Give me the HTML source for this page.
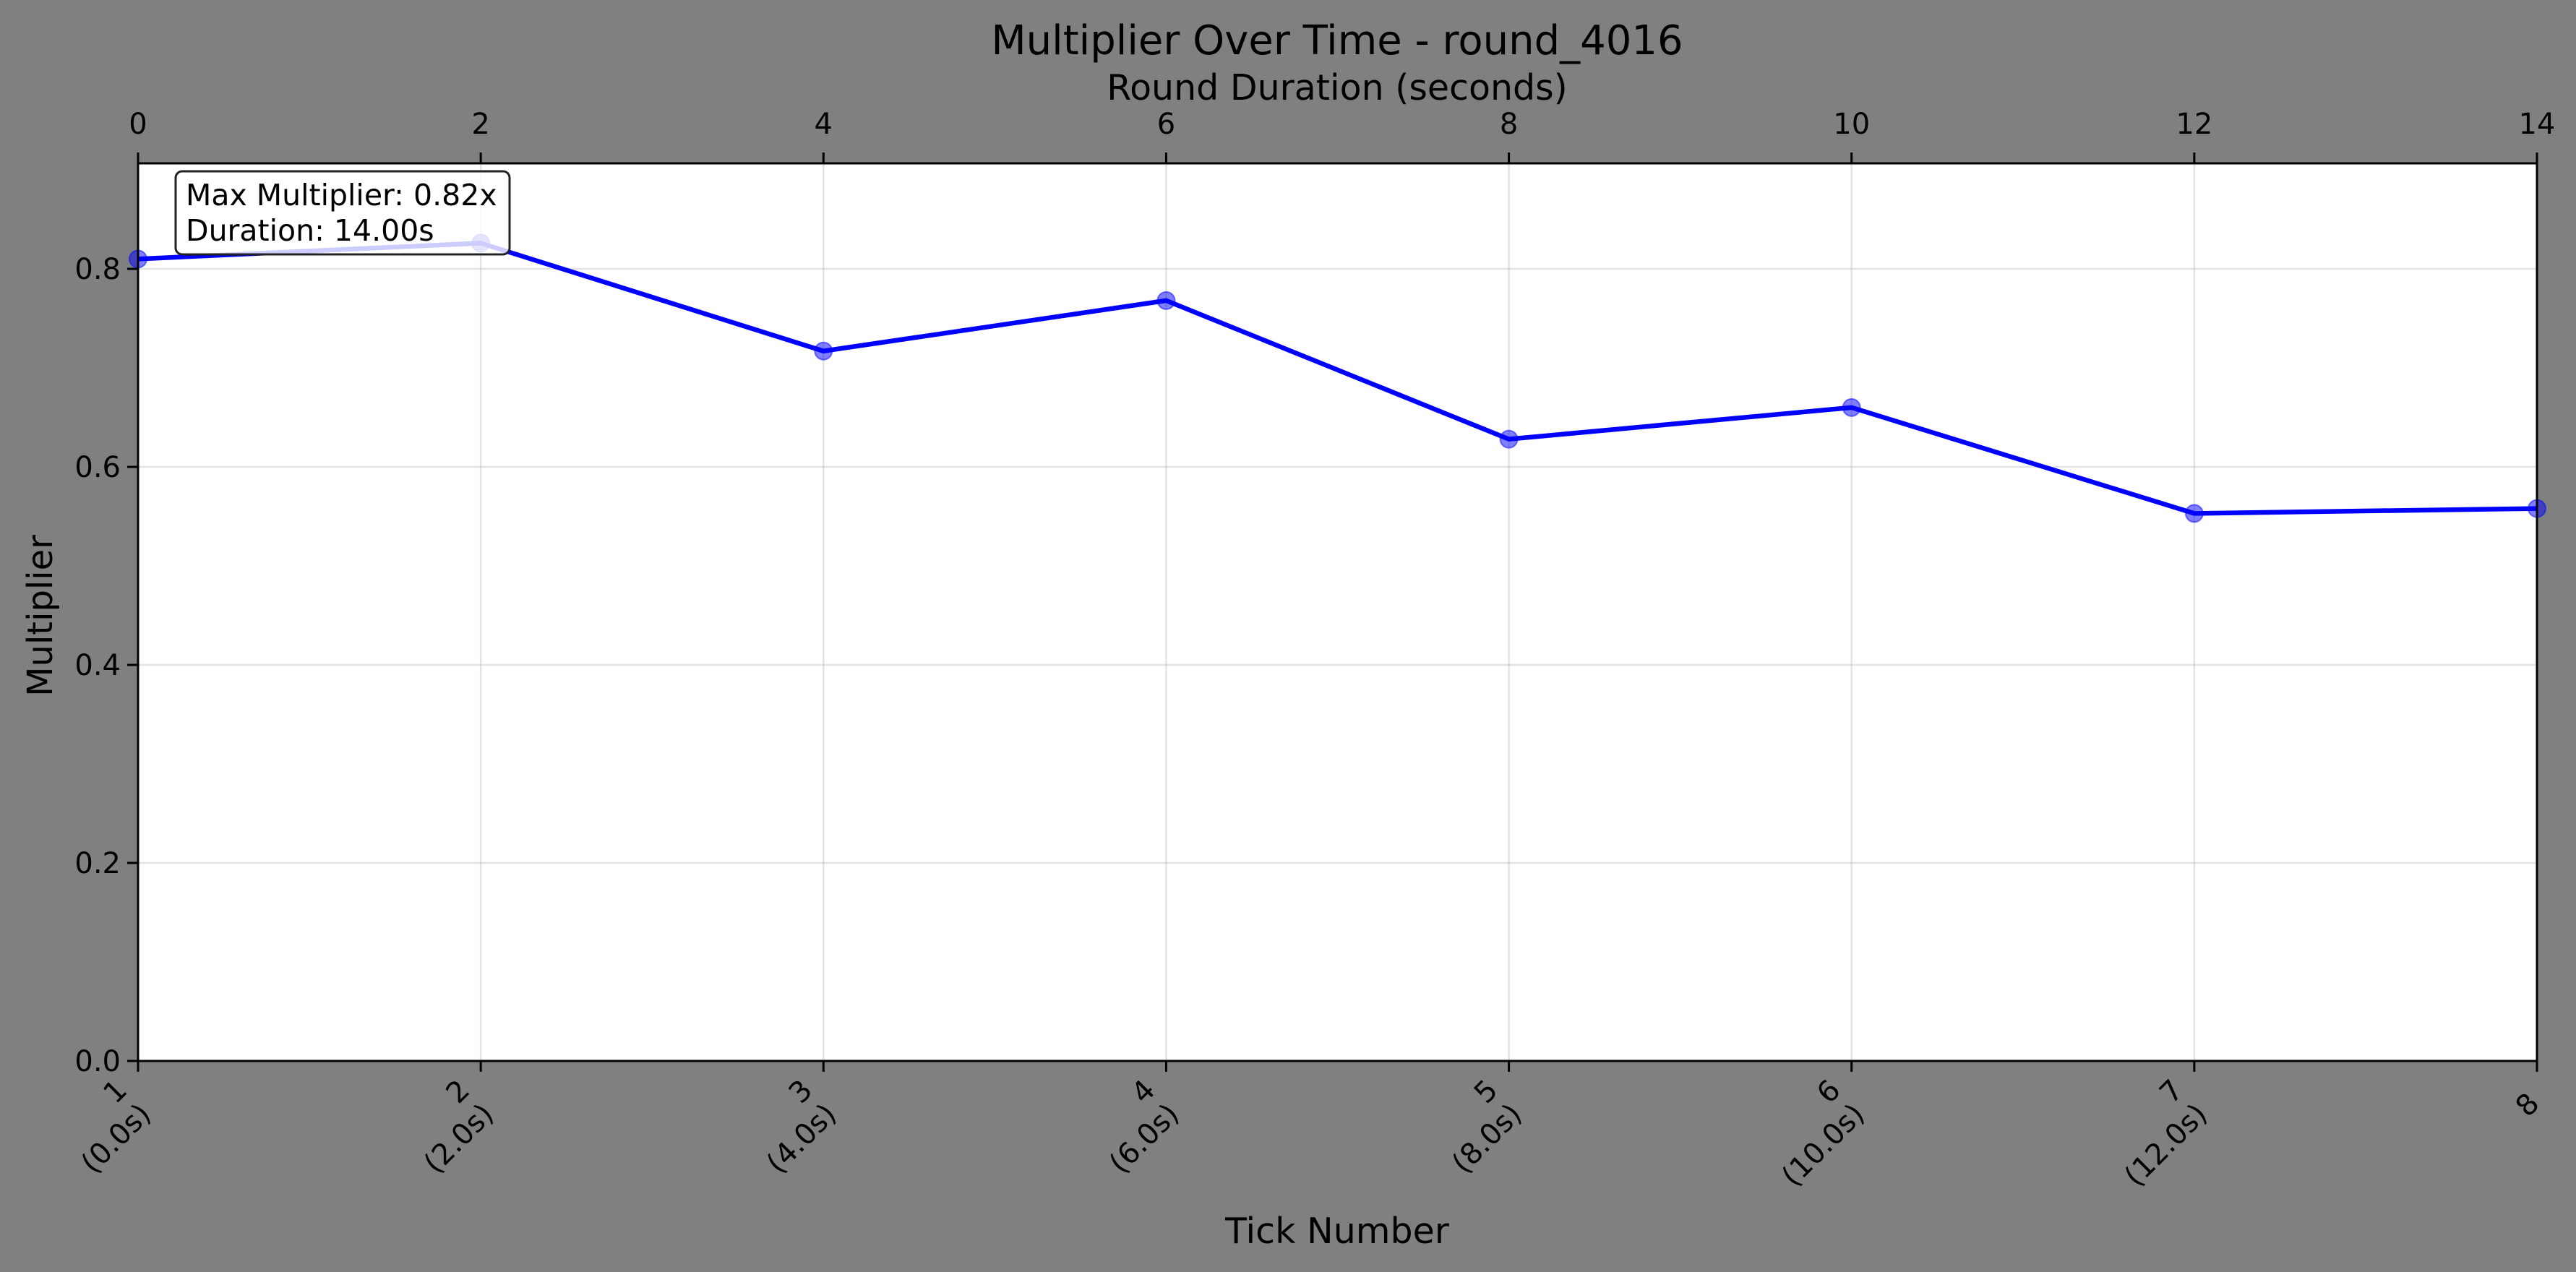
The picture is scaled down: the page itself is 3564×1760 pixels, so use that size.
<!DOCTYPE html>
<html><head><meta charset="utf-8"><style>
html,body{margin:0;padding:0;background:#808080;}
svg{display:block;font-family:"DejaVu Sans","Liberation Sans",sans-serif;}
</style></head><body>
<svg id="chart" width="3564" height="1760" viewBox="0 0 3564 1760" xmlns="http://www.w3.org/2000/svg">
<rect x="0" y="0" width="3564" height="1760" fill="#808080"/>
<rect x="191" y="226" width="3319" height="1242" fill="#ffffff"/>
<g id="grid"></g>
<g id="series"></g>
<g id="axes"></g>
<text x="1850" y="75" font-size="56" text-anchor="middle">Multiplier Over Time - round_4016</text>
<text x="1850" y="138" font-size="49" text-anchor="middle">Round Duration (seconds)</text>
<text x="1850" y="1720" font-size="49" text-anchor="middle">Tick Number</text>
<text transform="translate(72,852) rotate(-90)" font-size="48" text-anchor="middle">Multiplier</text>
<g>
<rect x="243" y="237" width="462" height="115" rx="9" fill="#ffffff" fill-opacity="0.8" stroke="#222" stroke-width="3"/>
<text x="257" y="284" font-size="41">Max Multiplier: 0.82x</text>
<text x="257" y="333" font-size="41">Duration: 14.00s</text>
</g>
</svg>
<script>
const seconds = [0, 2, 4, 6, 8, 10, 12, 14];
const multipliers = [0.81, 0.826, 0.717, 0.768, 0.628, 0.66, 0.553, 0.558];
const tickLabels = ["1", "2", "3", "4", "5", "6", "7", "8"];
const tickSubLabels = ["(0.0s)", "(2.0s)", "(4.0s)", "(6.0s)", "(8.0s)", "(10.0s)", "(12.0s)", ""];
const yTicks = [0.0, 0.2, 0.4, 0.6, 0.8];
const topTicks = [0, 2, 4, 6, 8, 10, 12, 14];

const L=191,R=3510,T=226,B=1468,XMAX=14,YMAX=0.9066;
const xs=v=>L+(v/XMAX)*(R-L);
const ys=v=>B-(v/YMAX)*(B-T);
const NS="http://www.w3.org/2000/svg";
function mk(tag,attrs,parent){const e=document.createElementNS(NS,tag);for(const k in attrs)e.setAttribute(k,attrs[k]);parent.appendChild(e);return e;}
const grid=document.getElementById('grid'),series=document.getElementById('series'),axes=document.getElementById('axes');

yTicks.forEach(v=>{
  const g=mk('line',{x1:L,x2:R,y1:ys(v),y2:ys(v),stroke:'#b0b0b0','stroke-opacity':0.35,'stroke-width':2.5},grid);
  
  
  const t=mk('line',{x1:L-15,x2:L,y1:ys(v),y2:ys(v),stroke:'#000','stroke-width':3},axes);
  
  
  const tx=mk('text',{x:L-24,y:ys(v)+14,'font-size':40,'text-anchor':'end'},axes);
  tx.textContent=v.toFixed(1);
  
  
});
seconds.forEach((s,i)=>{
  const g=mk('line',{x1:xs(s),x2:xs(s),y1:T,y2:B,stroke:'#b0b0b0','stroke-opacity':0.35,'stroke-width':2.5},grid);
  
  
  const t=mk('line',{x1:xs(s),x2:xs(s),y1:B,y2:B+15,stroke:'#000','stroke-width':3},axes);
  
  
  const tx=mk('text',{transform:`translate(${xs(s)-16},${B+40}) rotate(-45)`,'font-size':40,'text-anchor':'end'},axes);
  
  
  const a=mk('tspan',{x:0,dy:tickSubLabels[i]?'0.1em':'0.75em'},tx);a.textContent=tickLabels[i];
  if(tickSubLabels[i]){const b=mk('tspan',{x:0,dy:'1.17em'},tx);b.textContent=tickSubLabels[i];}
});
topTicks.forEach(s=>{
  const t=mk('line',{x1:xs(s),x2:xs(s),y1:T-15,y2:T,stroke:'#000','stroke-width':3},axes);
  
  
  const tx=mk('text',{x:xs(s),y:T-41,'font-size':40,'text-anchor':'middle'},axes);
  tx.textContent=String(s);
  
  
});
const pts=seconds.map((s,i)=>xs(s)+','+ys(multipliers[i])).join(' ');
const line=mk('polyline',{points:pts,fill:'none',stroke:'#0000ff','stroke-width':6.5,'stroke-linejoin':'round'},series);


seconds.forEach((s,i)=>{
  const c=mk('circle',{cx:xs(s),cy:ys(multipliers[i]),r:12,fill:'#0000ff','fill-opacity':0.5,stroke:'#0000ff','stroke-opacity':0.5,'stroke-width':2},series);
  
  
});
const frame=mk('rect',{x:L,y:T,width:R-L,height:B-T,fill:'none',stroke:'#000','stroke-width':3},axes);


</script>
</body></html>
